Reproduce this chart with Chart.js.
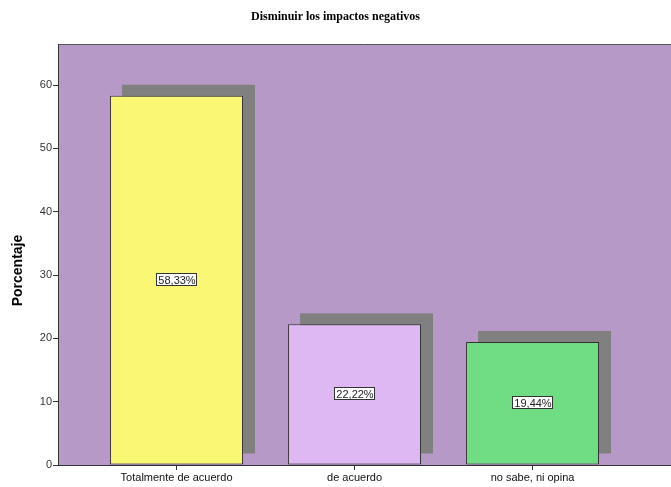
<!DOCTYPE html>
<html>
<head>
<meta charset="utf-8">
<script src="https://cdn.jsdelivr.net/npm/chart.js@4/dist/chart.umd.min.js"></script>
<style>
  html, body { margin: 0; padding: 0; background: #ffffff; }
  #wrap { width: 671px; height: 487px; }
</style>
</head>
<body>
<div id="wrap"><canvas id="chart" width="671" height="487"></canvas></div>
<script>
// data
var categories = ["Totalmente de acuerdo", "de acuerdo", "no sabe, ni opina"];
var percentages = [58.33, 22.22, 19.44];
var barColors = ["#faf775", "#deb8f2", "#70dd84"];
var yTicks = [0, 10, 20, 30, 40, 50, 60];
var yTitle = "Porcentaje";

var labelFont = "11px 'Liberation Sans', Arial, sans-serif";

// plot background and top frame line
var plotBackground = {
  id: "plotBackground",
  beforeDraw: function(chart) {
    var ctx = chart.ctx, a = chart.chartArea;
    ctx.save();
    ctx.fillStyle = "#b799c7";
    ctx.fillRect(a.left, a.top, a.right - a.left, a.bottom - a.top);
    ctx.strokeStyle = "#555555";
    ctx.lineWidth = 1;
    ctx.beginPath();
    ctx.moveTo(a.left, a.top + 0.5);
    ctx.lineTo(a.right, a.top + 0.5);
    ctx.stroke();
    ctx.restore();
  },
  // y axis title sits a bit below the middle in the original
  afterDraw: function(chart) {
    var ctx = chart.ctx, a = chart.chartArea;
    ctx.save();
    ctx.translate(18, (a.top + a.bottom) / 2 + 16);
    ctx.rotate(-Math.PI / 2);
    ctx.font = "bold 14px 'Liberation Sans', Arial, sans-serif";
    ctx.fillStyle = "#000000";
    ctx.textAlign = "center";
    ctx.textBaseline = "middle";
    ctx.fillText(yTitle, 0, 0);
    ctx.restore();
  }
};

// grey drop shadow behind every bar (SPSS style)
var barShadow = {
  id: "barShadow",
  beforeDatasetsDraw: function(chart) {
    var ctx = chart.ctx;
    ctx.save();
    ctx.fillStyle = "#808080";
    chart.getDatasetMeta(0).data.forEach(function(bar) {
      var left = bar.x - bar.width / 2;
      ctx.fillRect(left + 12, bar.y - 11, bar.width, bar.base - bar.y);
    });
    ctx.restore();
  }
};

// boxed value labels in the middle of each bar
var valueLabels = {
  id: "valueLabels",
  afterDatasetsDraw: function(chart) {
    var ctx = chart.ctx;
    ctx.save();
    ctx.font = labelFont;
    ctx.textAlign = "center";
    ctx.textBaseline = "middle";
    chart.getDatasetMeta(0).data.forEach(function(bar, i) {
      var text = percentages[i].toFixed(2).replace(".", ",") + "%";
      var w = Math.round(ctx.measureText(text).width) + 4;
      var h = 13;
      var cx = Math.round(bar.x), cy = Math.round((bar.y + bar.base) / 2);
      var bx = cx - Math.round(w / 2), by = cy - Math.round(h / 2);
      ctx.fillStyle = "#ffffff";
      ctx.fillRect(bx, by, w, h);
      ctx.strokeStyle = "#333333";
      ctx.lineWidth = 1;
      ctx.strokeRect(bx + 0.5, by + 0.5, w - 1, h - 1);
      ctx.fillStyle = "#222222";
      ctx.fillText(text, cx, cy + 1);
    });
    ctx.restore();
  }
};

new Chart(document.getElementById("chart"), {
  type: "bar",
  data: {
    datasets: [{
      data: percentages.map(function(v, i) { return { x: i, y: v }; }),
      backgroundColor: barColors,
      borderColor: "#333333",
      borderWidth: 1,
      borderSkipped: false,
      barPercentage: 0.747,
      categoryPercentage: 1
    }]
  },
  options: {
    responsive: false,
    animation: false,
    layout: { padding: { left: 0, right: 0, top: 0, bottom: 0 } },
    plugins: {
      legend: { display: false },
      tooltip: { enabled: false },
      title: {
        display: true,
        text: "Disminuir los impactos negativos",
        color: "#000000",
        font: { family: "'Liberation Serif', 'Times New Roman', serif", size: 12, weight: "bold" },
        padding: { top: 10, bottom: 19.6 }
      }
    },
    scales: {
      x: {
        type: "linear",
        offset: false,
        min: -0.666,
        max: 2.778,
        afterBuildTicks: function(scale) {
          scale.ticks = categories.map(function(c, i) { return { value: i }; });
        },
        afterFit: function(scale) { scale.height = 22; },
        ticks: {
          autoSkip: false,
          maxRotation: 0,
          padding: 1,
          color: "#111111",
          font: { family: "'Liberation Sans', Arial, sans-serif", size: 11 },
          callback: function(v) { return categories[v]; }
        },
        grid: { offset: false, drawOnChartArea: false, drawTicks: true, tickLength: 5, color: "#333333" },
        border: { display: true, color: "#333333", width: 1 }
      },
      y: {
        min: 0,
        max: 66.5,
        afterBuildTicks: function(scale) {
          scale.ticks = yTicks.map(function(v) { return { value: v }; });
        },
        afterFit: function(scale) { scale.width = 58; },
        ticks: {
          padding: 1,
          color: "#333333",
          font: { family: "'Liberation Sans', Arial, sans-serif", size: 11 }
        },
        grid: { drawOnChartArea: false, drawTicks: true, tickLength: 5, color: "#333333" },
        border: { display: true, color: "#333333", width: 1 }
      }
    }
  },
  plugins: [plotBackground, barShadow, valueLabels]
});
</script>
</body>
</html>
